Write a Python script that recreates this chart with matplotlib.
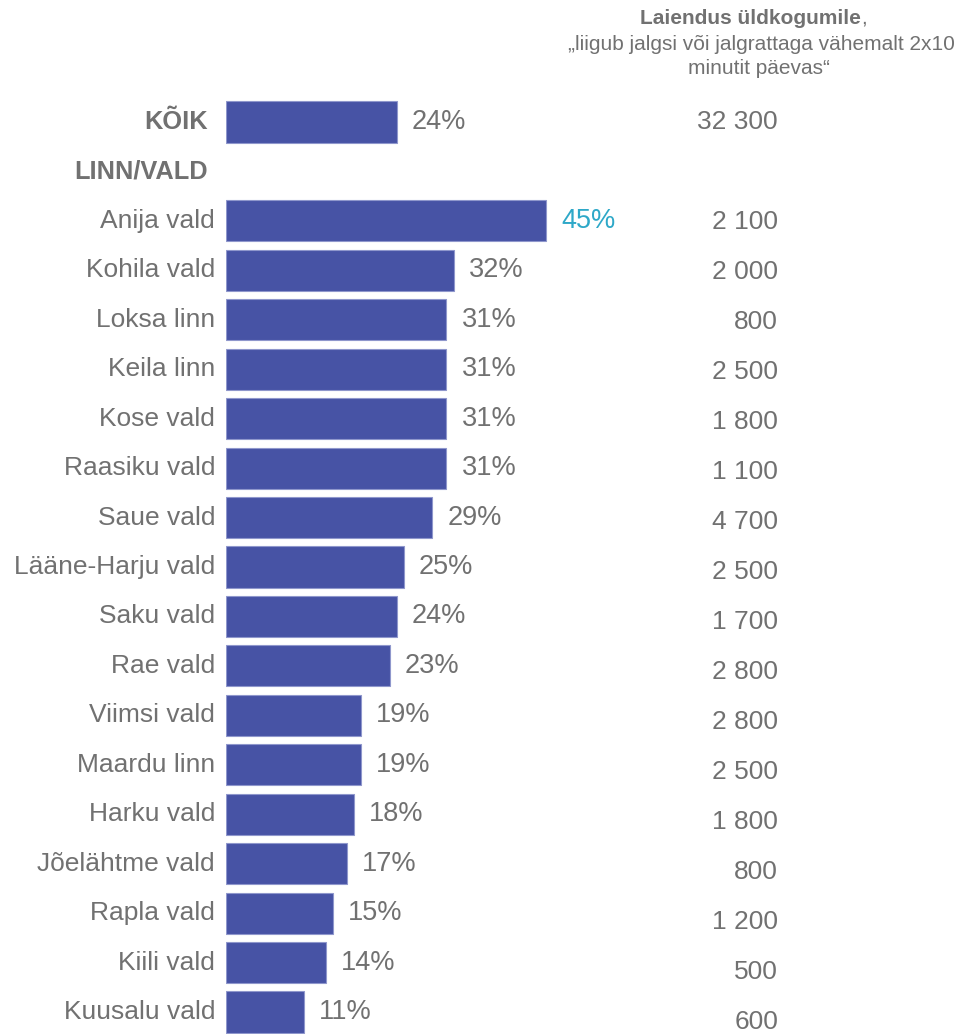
import matplotlib
matplotlib.use("Agg")
import matplotlib.pyplot as plt
from matplotlib.transforms import offset_copy

plt.rcParams['font.family'] = ['Liberation Sans', 'DejaVu Sans']

categories = ["KÕIK", "LINN/VALD", "Anija vald", "Kohila vald", "Loksa linn", "Keila linn",
              "Kose vald", "Raasiku vald", "Saue vald", "Lääne-Harju vald", "Saku vald",
              "Rae vald", "Viimsi vald", "Maardu linn", "Harku vald", "Jõelähtme vald",
              "Rapla vald", "Kiili vald", "Kuusalu vald"]
values = [24, None, 45, 32, 31, 31, 31, 31, 29, 25, 24, 23, 19, 19, 18, 17, 15, 14, 11]
extension = ["32 300", "", "2 100", "2 000", "800", "2 500", "1 800", "1 100", "4 700",
             "2 500", "1 700", "2 800", "2 800", "2 500", "1 800", "800", "1 200", "500", "600"]
bold_rows = ["KÕIK", "LINN/VALD"]
highlight = "Anija vald"

W, H = 963, 1034
fig = plt.figure(figsize=(W / 100, H / 100), dpi=100)

bar_color = "#4753A5"
edge_color = "#8F97CC"
grey = "#717171"
cyan = "#2EA8C8"

px_per_pct = (546 - 226) / 45.0
row_px = (1012 - 122) / 18.0

ax = fig.add_axes([226 / W, 0, (W - 226) / W, 1])
ax.set_xlim(0, (W - 226) / px_per_pct)
ax.set_ylim(18 + (H - 1012) / row_px, -122 / row_px)
ax.axis("off")

ys = list(range(len(categories)))
for y, cat, v in zip(ys, categories, values):
    if v is not None:
        ax.barh(y, v, height=0.83, color=bar_color, edgecolor=edge_color, linewidth=0.8)
        col = cyan if cat == highlight else grey
        tr = offset_copy(ax.transData, fig=fig, x=15, y=0, units="dots")
        ax.text(v, y, f"{v}%", transform=tr, ha="left", va="center", fontsize=19.5, color=col)
    is_bold = cat in bold_rows
    trl = offset_copy(ax.transData, fig=fig, x=-18 if is_bold else -11, y=0, units="dots")
    ax.text(0, y, cat, transform=trl, ha="right", va="center",
            fontsize=18.3 if is_bold else 19, color=grey,
            fontweight="bold" if is_bold else "normal")

# right column with its own vertical scale
ax2 = fig.add_axes([0, 0, 1, 1])
ax2.set_xlim(0, W)
num_px = (1022 - 122) / 18.0
ax2.set_ylim(18 + (H - 1022) / num_px, -122 / num_px)
ax2.axis("off")
for y, s in zip(ys, extension):
    if s:
        ax2.text(778, y, s, ha="right", va="center", fontsize=19, color=grey)

t1 = fig.text(640 / W, 1 - 18 / H, "Laiendus üldkogumile", ha="left", va="center",
              fontsize=15, color=grey, fontweight="bold")
fig.canvas.draw()
bb = t1.get_window_extent()
fig.text(bb.x1 / W, 1 - 18 / H, ",", ha="left", va="center", fontsize=15, color=grey)
fig.text(761 / W, 1 - 45 / H, "„liigub jalgsi või jalgrattaga vähemalt 2x10", ha="center",
         va="center", fontsize=15, color=grey)
fig.text(759 / W, 1 - 69 / H, "minutit päevas“", ha="center", va="center",
         fontsize=15, color=grey)

fig.savefig("out.png", dpi=100, facecolor="white")
